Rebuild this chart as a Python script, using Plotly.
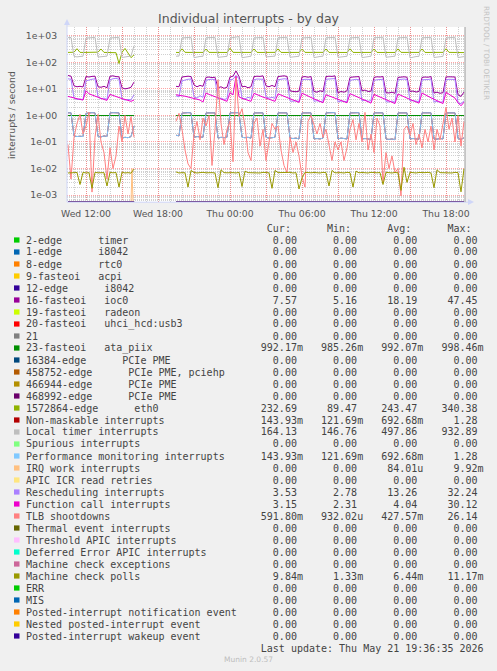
import math
import pandas as pd
import plotly.graph_objects as go

# ---------------- time axes ----------------
WED_TIMES = list(pd.date_range("2026-05-20 10:30", "2026-05-20 16:00", freq="15min"))
THU_TIMES = list(pd.date_range("2026-05-20 19:30", "2026-05-21 19:30", freq="15min"))
GAP_TIME = pd.Timestamp("2026-05-20 17:45")
X_START, X_END = "2026-05-20 10:25", "2026-05-21 19:35"

X_TICKS = ["2026-05-20 12:00", "2026-05-20 15:00", "2026-05-20 18:00", "2026-05-20 21:00",
           "2026-05-21 00:00", "2026-05-21 03:00", "2026-05-21 06:00", "2026-05-21 09:00",
           "2026-05-21 12:00", "2026-05-21 15:00", "2026-05-21 18:00"]
X_TICK_TEXT = ["Wed 12:00", "", "Wed 18:00", "", "Thu 00:00", "", "Thu 06:00", "",
               "Thu 12:00", "", "Thu 18:00"]
Y_TICKS = [1e-3, 1e-2, 1e-1, 1e0, 1e1, 1e2, 1e3]
Y_TICK_TEXT = ["1e-03", "1e-02", "1e-01", "1e+00", "1e+01", "1e+02", "1e+03"]

# ---------------- series values (15 min samples) ----------------
local_timer_wed = [850, 865,
                   168, 160, 166, 170, 815, 840, 852, 872, 158, 164, 168, 171,
                   826, 845, 857, 878, 152, 162, 168, 173,
                   420]
local_timer_thu = [170, 172,
                   828, 846, 858, 880, 150, 160, 166, 169, 838, 850, 861, 872, 154, 161, 166, 168,
                   822, 845, 868, 932, 149, 158, 165, 170, 830, 846, 852, 871, 160, 164, 168, 171,
                   838, 851, 860, 879, 155, 160, 165, 169, 829, 845, 856, 870, 150, 161, 166, 170,
                   840, 850, 861, 872, 154, 160, 165, 169, 831, 846, 855, 876, 150, 158, 164, 170,
                   840, 852, 860, 881, 155, 161, 166, 170, 832, 850, 861, 879, 147, 158, 165, 168,
                   838, 851, 860, 874, 152, 160, 165, 168, 830, 846, 861, 880,
                   151, 160, 164.13]

eth0_wed = [236, 238,
            240, 326, 237, 235, 235, 238, 236, 234, 241, 318, 236, 235,
            236, 235, 230, 90, 238, 334, 236, 150,
            190]
eth0_thu = [236, 234,
            322, 238, 236, 235, 236, 237, 235, 236, 316, 237, 236, 234, 235, 236, 237, 235,
            340, 238, 236, 235, 236, 235, 237, 236, 318, 237, 235, 236, 235, 236, 236, 237,
            320, 236, 235, 236, 236, 237, 235, 236, 312, 237, 236, 235, 236, 235, 236, 237,
            318, 236, 235, 236, 235, 237, 236, 235, 322, 237, 235, 236, 236, 235, 237, 236,
            315, 236, 235, 236, 236, 237, 236, 235, 320, 237, 236, 235, 235, 236, 237, 236,
            318, 236, 235, 236, 236, 235, 236, 237, 325, 237, 236, 235,
            234, 233, 232.69]

ioc0_wed = [32, 30,
            13, 12, 12.5, 11.8, 29, 28, 29.5, 30, 12, 11.5, 12.5, 11,
            30, 31, 29, 28.5, 11, 10, 10.5, 11.5,
            18]
ioc0_thu = [12.5, 12,
            28, 29.5, 30, 29, 14, 12, 13.5, 12.5, 27, 28, 26.5, 27.5, 11, 12, 10.5, 11.5,
            28, 30, 47.45, 29, 12, 12.5, 11, 12, 29, 30, 29.5, 31, 13, 12, 13.5, 12,
            29, 30, 31, 29.5, 8.5, 8, 7.8, 8.2, 28, 29, 27.5, 29, 8, 7.5, 8.5, 7.9,
            29, 30, 29.5, 31, 7, 8, 7.5, 8.5, 27, 28, 28.5, 29, 8.5, 9, 8, 8.2,
            27, 28.5, 28, 29, 7.2, 7, 7.5, 6.8, 27, 28, 28.5, 27.5, 8, 8.3, 7.6, 8,
            27, 28, 27.5, 29, 7, 7.5, 6.8, 7.2, 28, 28.5, 29, 28,
            6, 5.2, 7.57]

ata_piix_wed = [0.992, 0.991,
                0.993, 0.992, 0.990, 0.994, 0.992, 0.991, 0.993, 0.992, 0.995, 0.990, 0.992, 0.993,
                0.991, 0.992, 0.994, 0.992, 0.990, 0.993, 0.992, 0.991,
                0.992]
ata_piix_thu = [0.992, 0.991,
                0.993, 0.992, 0.990, 0.994, 0.992, 0.991, 0.993, 0.992, 0.995, 0.990, 0.992, 0.993,
                0.991, 0.992, 0.994, 0.992, 0.990, 0.993, 0.998, 0.992, 0.991, 0.992, 0.993, 0.985,
                0.992, 0.994, 0.991, 0.992, 0.993, 0.990, 0.992, 0.991, 0.992, 0.993, 0.994, 0.992,
                0.990, 0.992, 0.991, 0.993, 0.992, 0.995, 0.992, 0.990, 0.993, 0.992, 0.991, 0.992,
                0.994, 0.992, 0.990, 0.993, 0.992, 0.991, 0.993, 0.992, 0.990, 0.994, 0.992, 0.991,
                0.993, 0.992, 0.990, 0.992, 0.994, 0.991, 0.992, 0.993, 0.992, 0.990, 0.993, 0.992,
                0.991, 0.994, 0.992, 0.990, 0.993, 0.992, 0.991, 0.992, 0.994, 0.992, 0.990, 0.993,
                0.992, 0.991, 0.993, 0.992, 0.990, 0.994, 0.992, 0.991,
                0.993, 0.992, 0.99217]

perf_mon_wed = [1.25, 1.26,
                0.17, 0.16, 0.165, 0.16, 1.2, 1.26, 1.27, 1.25, 0.16, 0.155, 0.17, 0.16,
                1.24, 1.27, 1.26, 1.25, 0.14, 0.15, 0.145, 0.16,
                0.4]
perf_mon_thu = [0.18, 0.17,
                1.22, 1.26, 1.27, 1.25, 0.15, 0.16, 0.155, 0.15, 1.24, 1.27, 1.26, 1.25, 0.14, 0.15, 0.145, 0.15,
                1.25, 1.28, 1.26, 1.27, 0.15, 0.145, 0.15, 0.14, 1.24, 1.26, 1.27, 1.25, 0.15, 0.14, 0.145, 0.15,
                1.25, 1.27, 1.26, 1.25, 0.14, 0.135, 0.14, 0.13, 1.24, 1.26, 1.27, 1.25, 0.13, 0.135, 0.13, 0.14,
                1.25, 1.27, 1.26, 1.28, 0.13, 0.14, 0.135, 0.13, 1.24, 1.26, 1.25, 1.27, 0.13, 0.135, 0.13, 0.125,
                1.25, 1.26, 1.27, 1.25, 0.13, 0.125, 0.13, 0.122, 1.24, 1.26, 1.27, 1.25, 0.13, 0.135, 0.13, 0.128,
                1.25, 1.27, 1.26, 1.25, 0.13, 0.128, 0.135, 0.13, 1.24, 1.26, 1.27, 1.25,
                0.135, 0.125, 0.1439]
nmi_wed = perf_mon_wed   # identical readings (same statistics, hidden under perf. monitoring)
nmi_thu = perf_mon_thu

resched_wed = [24, 23,
               4.5, 4, 4.2, 3.9, 20, 22, 23, 24, 5, 4.2, 4.5, 4,
               22, 24, 25, 23, 4.2, 3.8, 4, 3.9,
               6]
resched_thu = [5.5, 5,
               20, 22, 23, 23.5, 5, 4.5, 5.5, 4.8, 21, 22.5, 23, 22, 4.2, 4.5, 4, 4.3,
               22, 23, 32.24, 24, 4.5, 4.2, 4.8, 4.4, 22, 23.5, 24, 23, 5, 4.5, 4.8, 4.4,
               22, 23, 24, 23.5, 3.5, 3.4, 3.6, 3.3, 22, 23, 23.5, 22.5, 3.4, 3.6, 3.3, 3.5,
               23, 24, 23.5, 24.5, 3.2, 3.5, 3.4, 3.3, 21, 22.5, 23, 22, 3.5, 3.8, 3.4, 3.6,
               21, 22, 22.5, 23, 3.3, 3.2, 3.5, 3.1, 22, 23, 23.5, 22.5, 3.5, 3.6, 3.4, 3.3,
               22, 23, 22.5, 23.5, 3.2, 3.4, 3.1, 3.3, 22, 23, 23.5, 22.5,
               2.9, 2.78, 3.53]

func_call_wed = [5.2, 4.8,
                 4.5, 4.2, 4.0, 3.8, 8.5, 6.5, 5.8, 5.2, 4.8, 4.4, 4.0, 3.7,
                 6.2, 5.6, 5.0, 4.6, 4.3, 4.0, 3.6, 3.4,
                 3.8]
func_call_thu = [6.0, 5.6,
                 5.5, 5.3, 5.0, 4.8, 4.4, 4.1, 3.8, 3.2, 7.0, 6.2, 5.6, 5.0, 4.6, 4.2, 3.8, 3.4,
                 7.2, 6.0, 30.12, 5.0, 4.4, 4.0, 3.7, 3.4, 6.8, 6.0, 5.4, 4.9, 4.5, 4.1, 3.8, 3.4,
                 6.5, 5.8, 5.2, 4.8, 4.3, 3.9, 3.5, 3.1, 6.9, 6.0, 5.3, 4.7, 4.2, 3.8, 3.4, 3.0,
                 6.0, 5.4, 5.0, 4.5, 4.1, 3.7, 3.3, 3.0, 6.6, 5.8, 5.2, 4.6, 4.2, 3.7, 3.3, 2.9,
                 6.2, 5.5, 4.9, 4.4, 4.0, 3.6, 3.2, 2.8, 6.4, 5.6, 5.0, 4.5, 4.0, 3.6, 3.2, 2.9,
                 7.0, 6.0, 5.2, 4.6, 4.1, 3.6, 3.2, 2.8, 7.4, 6.2, 5.3, 4.5,
                 3.0, 2.31, 3.15]

tlb_wed = [0.08, 0.004,
           0.15, 0.5, 1.1, 0.2, 0.4, 1.3, 0.0013, 0.15, 1.1, 0.1, 0.04, 0.004,
           0.06, 0.01, 0.03, 0.4, 0.1, 1.0, 0.2, 0.9,
           0.15]
tlb_thu = [0.6, 1.2,
           0.3, 0.05, 0.015, 0.01, 0.2, 0.6, 0.12, 0.8, 0.4, 1.0, 0.013, 0.3, 22, 0.5, 0.08, 0.3,
           0.6, 0.018, 26.14, 0.9, 1.8, 0.4, 0.04, 0.02, 0.5, 0.8, 0.07, 0.3, 0.02, 0.1, 0.5, 0.3,
           0.4, 0.05, 0.013, 0.007, 0.15, 0.04, 0.1, 0.03, 0.005, 0.002, 0.6, 1.0, 0.4, 0.2, 0.5, 0.15,
           0.3, 0.08, 0.02, 0.1, 0.05, 0.1, 0.02, 0.06, 0.3, 0.7, 0.12, 0.5, 0.1, 1.3, 0.05, 0.2,
           0.04, 0.8, 0.4, 0.003, 0.04, 0.01, 0.03, 0.007, 0.01, 0.00093, 0.3, 0.4, 0.18, 0.5, 0.08, 0.2,
           0.06, 0.3, 0.1, 0.4, 0.05, 0.3, 0.12, 0.5, 2.0, 0.3, 0.8, 0.1,
           1.0, 0.07, 0.5918]

mc_polls_wed = [0.0068, 0.0070,
                0.0069, 0.0071, 0.0025, 0.0072, 0.0068, 0.0070, 0.0018, 0.0072, 0.0069, 0.0071, 0.0070, 0.0022,
                0.0072, 0.0069, 0.0071, 0.0020, 0.0073, 0.0068, 0.0070, 0.0067,
                0.0095]
mc_polls_thu = [0.0075, 0.0068,
                0.0070, 0.0069, 0.0020, 0.0085, 0.0071, 0.0068, 0.0070, 0.0072, 0.0069, 0.0071, 0.0070, 0.0068,
                0.0019, 0.0090, 0.0070, 0.0069, 0.0071, 0.0070, 0.0068, 0.0072, 0.0021, 0.0080, 0.0070, 0.0069,
                0.0071, 0.0070, 0.0068, 0.0072, 0.0070, 0.0069, 0.0018, 0.0085, 0.0070, 0.0071, 0.0069, 0.0070,
                0.0072, 0.0068, 0.0070, 0.0017, 0.0045, 0.0072, 0.0070, 0.0069, 0.0071, 0.0070, 0.0068, 0.0072,
                0.0070, 0.0022, 0.0085, 0.0069, 0.0071, 0.0070, 0.0068, 0.0072, 0.0070, 0.0020, 0.0080, 0.0069,
                0.0071, 0.0070, 0.0068, 0.0072, 0.0070, 0.0069, 0.0071, 0.0025, 0.0072, 0.0070, 0.0068, 0.0071,
                0.0069, 0.0015, 0.01117, 0.0030, 0.0072, 0.0070, 0.0068, 0.0071, 0.0069, 0.0070, 0.0072, 0.0068,
                0.0019, 0.0090, 0.0070, 0.0069, 0.0071, 0.0070, 0.0068, 0.0072,
                0.0070, 0.00133, 0.00984]

irq_work_times = ["2026-05-20 15:45", "2026-05-20 15:50", "2026-05-20 15:55"]
irq_work_vals = [0.0, 0.00992, 0.0]

zero_times = [WED_TIMES[0], WED_TIMES[-1], GAP_TIME, THU_TIMES[0], THU_TIMES[-1]]
zero_vals = [0.0, 0.0, None, 0.0, 0.0]

# ---------------- legend table ----------------
LEGEND_NAMES = [
    "2-edge      timer", "1-edge      i8042", "8-edge      rtc0", "9-fasteoi   acpi",
    "12-edge      i8042", "16-fasteoi   ioc0", "19-fasteoi   radeon", "20-fasteoi   uhci_hcd:usb3",
    "21", "23-fasteoi   ata_piix", "16384-edge      PCIe PME", "458752-edge      PCIe PME, pciehp",
    "466944-edge      PCIe PME", "468992-edge      PCIe PME", "1572864-edge      eth0",
    "Non-maskable interrupts", "Local timer interrupts", "Spurious interrupts",
    "Performance monitoring interrupts", "IRQ work interrupts", "APIC ICR read retries",
    "Rescheduling interrupts", "Function call interrupts", "TLB shootdowns",
    "Thermal event interrupts", "Threshold APIC interrupts", "Deferred Error APIC interrupts",
    "Machine check exceptions", "Machine check polls", "ERR", "MIS",
    "Posted-interrupt notification event", "Nested posted-interrupt event",
    "Posted-interrupt wakeup event"]
LEGEND_COLORS = [
    "#00CC00", "#0066B3", "#FF8000", "#FFCC00", "#330099", "#990099", "#CCFF00", "#FF0000",
    "#808080", "#008F00", "#00487D", "#B35A00", "#B38F00", "#6B006B", "#8FB300", "#B30000",
    "#BEBEBE", "#80FF80", "#80C9FF", "#FFC080", "#FFE680", "#AA80FF", "#EE00CC", "#FF8080",
    "#666600", "#FFBFFF", "#00FFCC", "#CC6699", "#999900", "#00CC00", "#0066B3", "#FF8000",
    "#FFCC00", "#330099"]
STAT_CUR = [0, 0, 0, 0, 0, 7.57, 0, 0, 0, 0.99217, 0, 0, 0, 0, 232.69, 0.14393, 164.13, 0,
            0.14393, 0, 0, 3.53, 3.15, 0.5918, 0, 0, 0, 0, 0.00984, 0, 0, 0, 0, 0]
STAT_MIN = [0, 0, 0, 0, 0, 5.16, 0, 0, 0, 0.98526, 0, 0, 0, 0, 89.47, 0.12169, 146.76, 0,
            0.12169, 0, 0, 2.78, 2.31, 0.00093202, 0, 0, 0, 0, 0.00133, 0, 0, 0, 0, 0]
STAT_AVG = [0, 0, 0, 0, 0, 18.19, 0, 0, 0, 0.99207, 0, 0, 0, 0, 243.47, 0.69268, 497.86, 0,
            0.69268, 0.00008401, 0, 13.26, 4.04, 0.42757, 0, 0, 0, 0, 0.00644, 0, 0, 0, 0, 0]
STAT_MAX = [0, 0, 0, 0, 0, 47.45, 0, 0, 0, 0.99846, 0, 0, 0, 0, 340.38, 1.28, 932.89, 0,
            1.28, 0.00992, 0, 32.24, 30.12, 26.14, 0, 0, 0, 0, 0.01117, 0, 0, 0, 0, 0]
LAST_UPDATE = "Last update: Thu May 21 19:36:35 2026"

SERIES = {
    "16-fasteoi   ioc0": (ioc0_wed, ioc0_thu),
    "23-fasteoi   ata_piix": (ata_piix_wed, ata_piix_thu),
    "1572864-edge      eth0": (eth0_wed, eth0_thu),
    "Non-maskable interrupts": (nmi_wed, nmi_thu),
    "Local timer interrupts": (local_timer_wed, local_timer_thu),
    "Performance monitoring interrupts": (perf_mon_wed, perf_mon_thu),
    "Rescheduling interrupts": (resched_wed, resched_thu),
    "Function call interrupts": (func_call_wed, func_call_thu),
    "TLB shootdowns": (tlb_wed, tlb_thu),
    "Machine check polls": (mc_polls_wed, mc_polls_thu),
}
for k, (a, b) in SERIES.items():
    assert len(a) == len(WED_TIMES), (k, len(a))
    assert len(b) == len(THU_TIMES), (k, len(b))

# ---------------- geometry ----------------
W, H = 497, 671
PL, PR, PT, PB = 67, 465, 27, 202          # plot area in px
YMIN, YMAX = -3.26, 3.33
DEC_PX = (PB - PT) / (YMAX - YMIN)
FLOOR = 10 ** (YMIN + 0.3 / DEC_PX)         # rrdtool draws zero at the bottom edge


def PX(px):
    return (px - PL) / (PR - PL)


def PY(py):
    return (PB - py) / (PB - PT)


def plotval(v):
    if v is None:
        return None
    return v if v > 0 else FLOOR


fig = go.Figure()
for name, color in zip(LEGEND_NAMES, LEGEND_COLORS):
    if name in SERIES:
        a, b = SERIES[name]
        xs = WED_TIMES + [GAP_TIME] + THU_TIMES
        ys = list(a) + [None] + list(b)
    elif name == "IRQ work interrupts":
        xs, ys = irq_work_times, irq_work_vals
    else:
        xs, ys = zero_times, zero_vals
    fig.add_trace(go.Scatter(x=xs, y=[plotval(v) for v in ys], mode="lines",
                             line=dict(color=color, width=1), connectgaps=False,
                             hoverinfo="skip", showlegend=False))

MAJOR = "rgba(255,90,90,0.55)"
MINOR = "rgba(150,150,150,0.45)"
minor_y = [k * 10 ** d for d in range(-4, 4) for k in range(2, 10)
           if YMIN < math.log10(k * 10 ** d) < YMAX]

fig.update_layout(
    width=W, height=H, margin=dict(l=PL, r=W - PR, t=PT, b=H - PB, pad=0),
    paper_bgcolor="#f0f0f0", plot_bgcolor="#ffffff", showlegend=False,
    font=dict(family="DejaVu Sans", size=9.3, color="#555555"),
    title=dict(text="Individual interrupts - by day", x=0.5, xref="container", xanchor="center",
               y=1 - 19 / H, yref="container", yanchor="middle",
               font=dict(family="DejaVu Sans", size=12.5, color="#555555")),
    xaxis=dict(type="date", range=[X_START, X_END], tickmode="array", tickvals=X_TICKS,
               ticktext=X_TICK_TEXT, showgrid=True, gridcolor=MAJOR, griddash="1px,1px", gridwidth=1,
               minor=dict(dtick=3600000, showgrid=True, gridcolor=MINOR, griddash="1px,1px", gridwidth=1),
               zeroline=False, showline=False, ticks="outside", ticklen=3, tickcolor="rgba(0,0,0,0)",
               tickfont=dict(family="DejaVu Sans", size=9.3, color="#555555"), fixedrange=True),
    yaxis=dict(type="log", range=[YMIN, YMAX], tickmode="array", tickvals=Y_TICKS, ticktext=Y_TICK_TEXT,
               showgrid=True, gridcolor=MAJOR, griddash="1px,1px", gridwidth=1,
               minor=dict(tickmode="array", tickvals=minor_y, showgrid=True, gridcolor=MINOR,
                          griddash="1px,1px", gridwidth=1),
               zeroline=False, showline=False, ticks="outside", ticklen=7, tickcolor="rgba(0,0,0,0)",
               tickfont=dict(family="DejaVu Sans", size=9.3, color="#555555"), fixedrange=True),
)

AXIS_C = "#CFD6F8"
shapes = [
    dict(type="line", xref="paper", yref="paper", x0=PX(PL), x1=PX(PL), y0=PY(PB), y1=PY(22),
         line=dict(color=AXIS_C, width=1), layer="above"),
    dict(type="path", xref="paper", yref="paper", fillcolor=AXIS_C, line=dict(width=0),
         path=f"M {PX(PL-3)} {PY(25)} L {PX(PL)} {PY(19)} L {PX(PL+3)} {PY(25)} Z"),
    dict(type="line", xref="paper", yref="paper", x0=PX(PL), x1=PX(471), y0=PY(PB + 0.2), y1=PY(PB + 0.2),
         line=dict(color=AXIS_C, width=1), layer="above"),
    dict(type="path", xref="paper", yref="paper", fillcolor=AXIS_C, line=dict(width=0),
         path=f"M {PX(468)} {PY(PB-3)} L {PX(474)} {PY(PB)} L {PX(468)} {PY(PB+3)} Z"),
    dict(type="line", xref="paper", yref="paper", x0=PX(PR), x1=PX(PR), y0=PY(PB), y1=PY(PT),
         line=dict(color="#9a9a9a", width=1)),
]

annotations = [
    dict(text="interrupts / second", x=PX(11), y=PY(115), xref="paper", yref="paper",
         textangle=-90, showarrow=False, xanchor="center", yanchor="middle",
         font=dict(family="DejaVu Sans", size=9.3, color="#555555")),
    dict(text="RRDTOOL / TOBI OETIKER", x=PX(487), y=PY(53), xref="paper", yref="paper",
         textangle=90, showarrow=False, xanchor="center", yanchor="middle",
         font=dict(family="DejaVu Sans", size=7.3, color="#c4c4c4")),
    dict(text="Munin 2.0.57", x=PX(248), y=PY(659), xref="paper", yref="paper",
         showarrow=False, xanchor="center", yanchor="middle",
         font=dict(family="DejaVu Sans", size=7.5, color="#bdbdbd")),
]

NB = "\u00a0"
MONO = dict(family="DejaVu Sans Mono", size=10, color="#444444")
LABEL_COLS = 36
TEXT_X = 26


def si(v):
    if v == 0:
        return "0.00", " "
    for f, u in ((1.0, " "), (1e-3, "m"), (1e-6, "u")):
        if abs(v) >= f:
            return f"{v / f:.2f}", u
    return f"{v / 1e-9:.2f}", "n"


def row_text(s):
    return s.replace(" ", NB)


header = " " * LABEL_COLS + "".join(f"    {h}  " for h in ("Cur:", "Min:", "Avg:", "Max:"))
annotations.append(dict(text=row_text(header), x=PX(TEXT_X - 2), y=PY(228), xref="paper", yref="paper",
                        showarrow=False, xanchor="left", yanchor="middle", font=MONO))
for i, (name, color) in enumerate(zip(LEGEND_NAMES, LEGEND_COLORS)):
    py = 240 + 12 * i
    vals = ""
    for v in (STAT_CUR[i], STAT_MIN[i], STAT_AVG[i], STAT_MAX[i]):
        n, u = si(v)
        vals += f"{n:>9}{u}"
    txt = name.ljust(LABEL_COLS) + vals
    annotations.append(dict(text=row_text(txt), x=PX(TEXT_X - 2), y=PY(py), xref="paper", yref="paper",
                            showarrow=False, xanchor="left", yanchor="middle", font=MONO))
    shapes.append(dict(type="rect", xref="paper", yref="paper", x0=PX(14), x1=PX(19.5),
                       y0=PY(py + 2.6), y1=PY(py - 2.6), fillcolor=color, line=dict(width=0)))
last_py = 240 + 12 * len(LEGEND_NAMES)
annotations.append(dict(text=row_text(LAST_UPDATE.rjust(LABEL_COLS + 40)), x=PX(TEXT_X - 2), y=PY(last_py),
                        xref="paper", yref="paper", showarrow=False, xanchor="left", yanchor="middle",
                        font=MONO))

fig.update_layout(shapes=shapes, annotations=annotations)
fig.write_html("out.html", config={"displayModeBar": False},
               post_script="document.body.style.margin='0';document.body.style.overflow='hidden';")
